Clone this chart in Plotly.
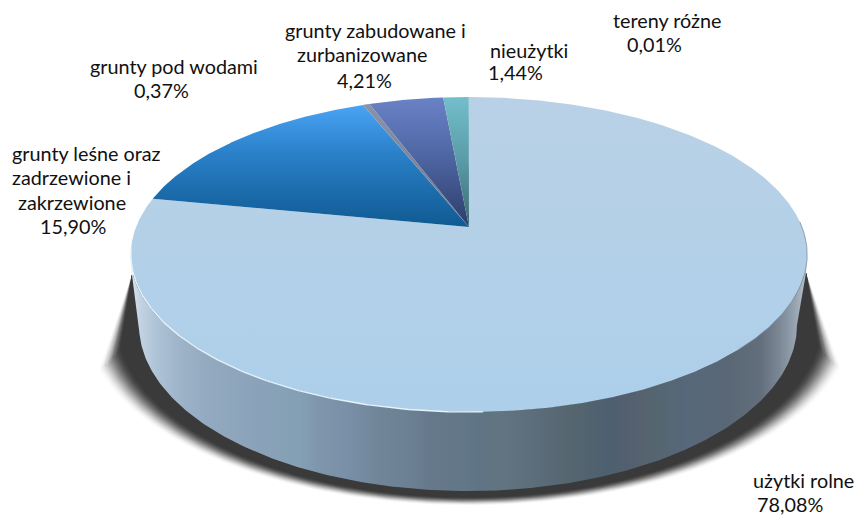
import numpy as np
import plotly.graph_objects as go

# ---- data ----
categories = ["użytki rolne", "grunty leśne oraz zadrzewione i zakrzewione", "grunty pod wodami",
              "grunty zabudowane i zurbanizowane", "nieużytki", "tereny różne"]
shares = [78.08, 15.90, 0.37, 4.21, 1.44, 0.01]
label_lines = [["użytki rolne"], ["grunty leśne oraz", "zadrzewione i", "zakrzewione"], ["grunty pod wodami"],
               ["grunty zabudowane i", "zurbanizowane"], ["nieużytki"], ["tereny różne"]]

# ---- styles / layout ----
W, H = 856, 515
FONT = "Lato"
FS = 19.8
slice_scales = [
    [[0, "#b9d1e6"], [1, "#adcfea"]],
    [[0, "#4aa3f5"], [0.4, "#2a80c8"], [1, "#0f5a92"]],
    [[0, "#8a92a6"], [1, "#6f7a90"]],
    [[0, "#6a82c6"], [0.45, "#4f66a4"], [1, "#2c3d6a"]],
    [[0, "#72bfcb"], [0.5, "#5a9aa6"], [1, "#3a6a72"]],
    [[0, "#8aa0c0"], [1, "#5a7090"]],
]
label_pos = [[(753, 481), (757, 505)],
             [(12, 154), (12, 178), (18, 203), (40, 227)],
             [(90, 67), (134, 91)],
             [(285, 31), (297, 55), (337, 81)],
             [(490, 51), (488, 73)],
             [(613, 21), (627, 45)]]
side_stops = [(130, "#dde7f1"), (140, "#c3d3e3"), (155, "#b0c4d8"), (175, "#a0b6ca"), (205, "#93aac0"),
              (260, "#8aa2b9"), (300, "#84a0b4"), (320, "#7e95ab"), (345, "#7a90a8"), (375, "#718799"),
              (405, "#6c8294"), (430, "#66798c"), (480, "#5f7585"), (505, "#627480"),
              (530, "#5d6e7c"), (575, "#55656f"), (610, "#4d6070"), (630, "#555f6e"), (650, "#55656f"),
              (690, "#56687a"), (730, "#5a6775"), (760, "#626e7b"), (780, "#7c8895"), (795, "#96a3b0"),
              (807, "#b9c3ce")]

# perspective projection of the pie's top circle
CX, CY, A, B, K = 469, 227, 152.7, 333, 0.1746


def rim(theta):
    d = 1 + K * np.cos(theta)
    return CX + B * np.sin(theta) / d, CY - A * np.cos(theta) / d


def ell(cx, cy, rx, ry, t):
    return cx + rx * np.cos(t), cy + ry * np.sin(t)


fig = go.Figure()


def poly(x, y, **kw):
    fig.add_trace(go.Scatter(x=list(x), y=list(y), mode="lines", fill="toself", line=dict(width=0),
                             hoverinfo="skip", showlegend=False, **kw))


# shadow: stacked ellipses clipped by two straight flanks that close in with each layer
AL, AR = (132, 275), (806, 273)
TL, TR = (97, 370), (842, 367)
N = 26
for i in range(N):
    f = i / (N - 1)
    rx = 386 + (352 - 386) * f
    ry = 186 + (177 - 186) * f
    t = np.linspace(np.pi, 0, 240)
    ex, ey = ell(469, 320, rx, ry, t)
    xl = AL[0] + (ey - AL[1]) * (TL[0] + 20 * f - AL[0]) / (TL[1] - AL[1])
    xr = AR[0] + (ey - AR[1]) * (TR[0] - 20 * f - AR[0]) / (TR[1] - AR[1])
    keep = (ex >= xl) & (ex <= xr) & (ey > 275)
    g = 255 + (58 - 255) * (f * f * (3 - 2 * f))
    c = f"rgb({g:.0f},{g:.0f},{g:.0f})"
    poly([AL[0]] + list(ex[keep]) + [AR[0], AL[0]], [AL[1]] + list(ey[keep]) + [AR[1], AL[1]], fillcolor=c)

# side wall
t = np.linspace(np.pi, 0, 240)
bx, by = ell(468, 325, 329, 166, t)
tt = np.linspace(0.04, np.pi - 0.04, 240)
tx, ty = ell(468.5, 254.5, 338.5, 157.5, tt)
xmin, xmax = side_stops[0][0], side_stops[-1][0]
side_scale = [[(x - xmin) / (xmax - xmin), c] for x, c in side_stops]
fig.add_trace(go.Scatter(x=[AL[0]] + list(bx) + [AR[0]] + list(tx),
                         y=[AL[1]] + list(by) + [AR[1]] + list(ty),
                         mode="lines", fill="toself", line=dict(width=0), hoverinfo="skip", showlegend=False,
                         fillgradient=dict(type="horizontal", colorscale=side_scale, start=xmin, stop=xmax)))

# top slices
total = sum(shares)
cum = 0
for v, sc in zip(shares, slice_scales):
    a0, a1 = 2 * np.pi * cum / total, 2 * np.pi * (cum + v) / total
    cum += v
    th = np.linspace(a0, a1, max(3, int(v * 12)))
    x, y = rim(th)
    px, py = [CX] + list(x) + [CX], [CY] + list(y) + [CY]
    fig.add_trace(go.Scatter(x=px, y=py, mode="lines", fill="toself", line=dict(width=0),
                             hoverinfo="skip", showlegend=False,
                             fillgradient=dict(type="vertical", colorscale=sc, start=min(py), stop=max(py))))

# rim highlights
th = np.radians(np.linspace(178, 262, 120))
x, y = rim(th)
fig.add_trace(go.Scatter(x=x, y=y, mode="lines", line=dict(color="#e6f3fb", width=1.4), hoverinfo="skip", showlegend=False))
th = np.radians(np.linspace(88, 135, 60))
x, y = rim(th)
fig.add_trace(go.Scatter(x=x, y=y, mode="lines", line=dict(color="#7d8e9e", width=0.8), hoverinfo="skip", showlegend=False))

# labels
for v, lines, pos in zip(shares, label_lines, label_pos):
    texts = lines + [f"{v:.2f}".replace(".", ",") + "%"]
    for s, (lx, ly) in zip(texts, pos):
        fig.add_annotation(x=lx, y=ly, text=s, showarrow=False, xanchor="left", yanchor="middle", xshift=-2, yshift=1.5,
                           font=dict(family=FONT, size=FS, color="#111111"))

fig.update_layout(width=W, height=H, margin=dict(l=0, r=0, t=0, b=0), paper_bgcolor="white", plot_bgcolor="white",
                  xaxis=dict(range=[0, W], visible=False, fixedrange=True),
                  yaxis=dict(range=[H, 0], visible=False, fixedrange=True), showlegend=False)
fig.write_html("out.html", config=dict(displayModeBar=False),
               post_script="document.body.style.margin='0';document.body.style.overflow='hidden';")
